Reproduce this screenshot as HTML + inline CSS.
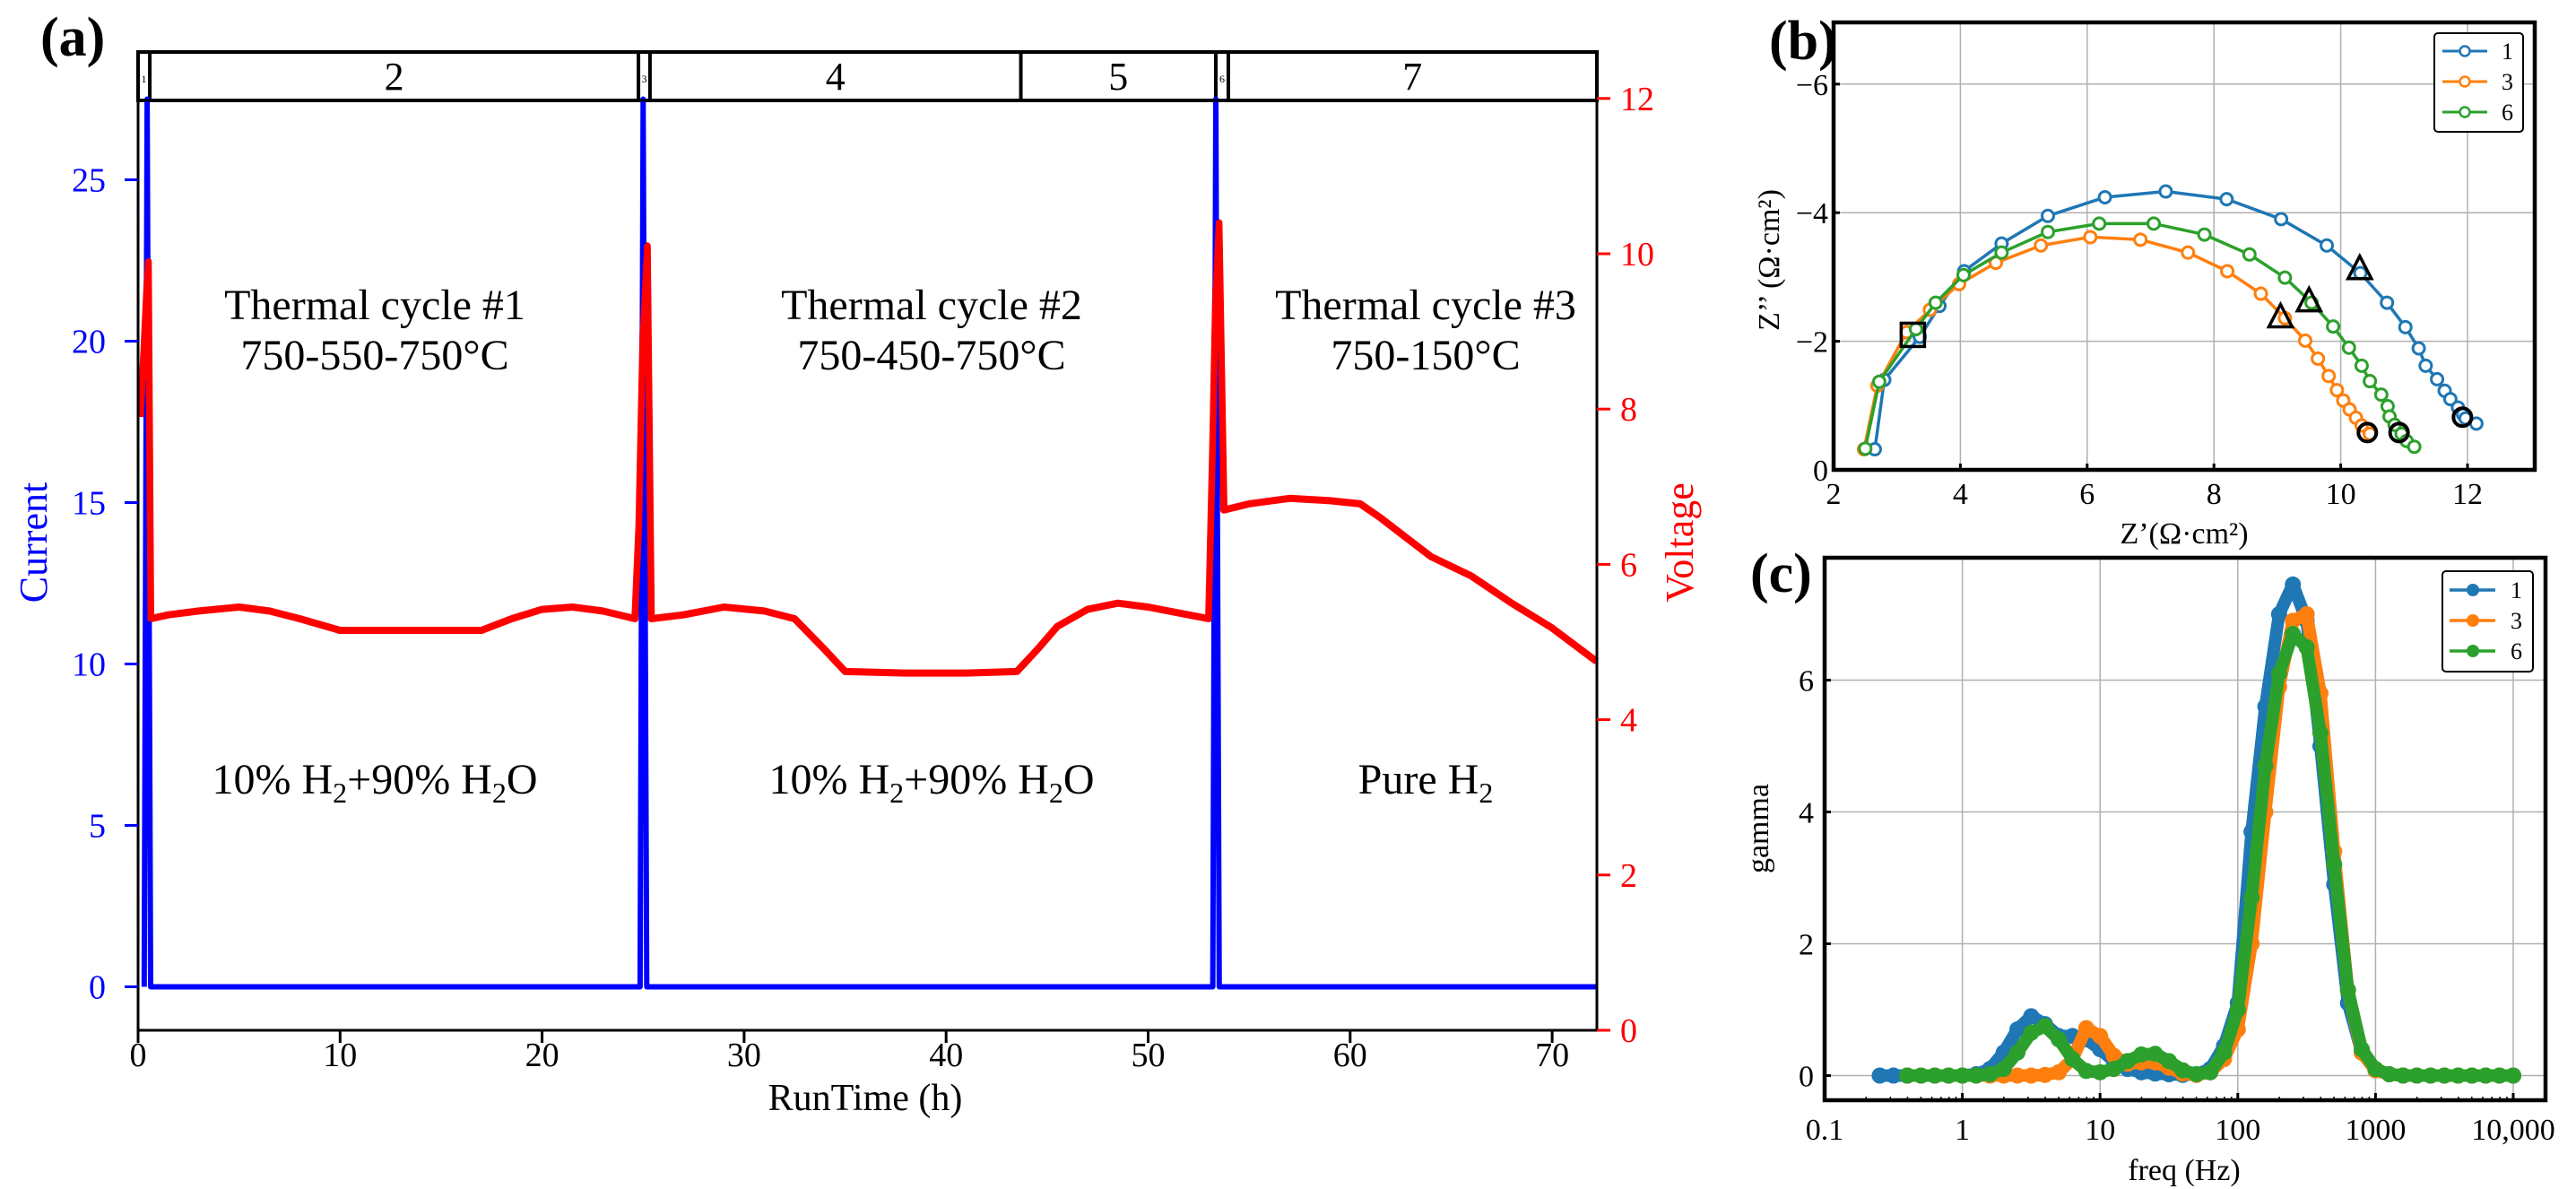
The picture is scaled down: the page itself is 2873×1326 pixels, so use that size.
<!DOCTYPE html>
<html><head><meta charset="utf-8"><style>
html,body{margin:0;padding:0;background:#fff;}
svg{display:block;font-family:"Liberation Serif","DejaVu Serif",serif;}
</style></head><body>
<svg id="fig" width="2873" height="1326" viewBox="0 0 2873 1326" xmlns="http://www.w3.org/2000/svg">
<rect width="2873" height="1326" fill="#fff"/>
<g id="pa"></g>
<g id="pb"></g>
<g id="pc"></g>
</svg>
<script>
// ---------- Panel (a) data ----------
const voltT = [0.13,0.3,0.5,0.62,1.5,3,5,6.5,8,10,13,17,18.5,20,21.5,23,24.6,24.8,25.0,25.2,25.4,27,29,31,32.5,34,35,38,41,43.5,44.5,45.5,47,48.5,50,52,53.0,53.2,53.35,53.5,53.75,55,57,59,60.5,61.5,62.5,64,66,68,70,72.2];
const voltV = [7.9,8.8,9.9,5.3,5.35,5.4,5.45,5.4,5.3,5.15,5.15,5.15,5.3,5.42,5.45,5.4,5.3,6.5,9.0,10.1,5.3,5.35,5.45,5.4,5.3,4.9,4.62,4.6,4.6,4.62,4.9,5.2,5.42,5.5,5.45,5.35,5.3,7.5,9.5,10.4,6.7,6.78,6.85,6.82,6.78,6.6,6.4,6.1,5.85,5.5,5.18,4.75];
const currT = [0.3,0.45,0.62,24.85,25.0,25.18,53.2,53.35,53.52,72.2];
const currI = [0,27.5,0,0,27.5,0,0,27.5,0,0];
const xTicksA = [0,10,20,30,40,50,60,70];
const iTicks = [0,5,10,15,20,25];
const vTicks = [0,2,4,6,8,10,12];
const segStarts = [0,0.58,24.77,25.34,43.7,53.35,53.97];
const segEnds = [0.58,24.77,25.34,43.7,53.35,53.97,72.2];
const segLabels = ["1","2","3","4","5","6","7"];

// ---------- Panel (b) data ----------
const nyqNames = ["1","3","6"];
const nyqColors = ["#1f77b4","#ff7f0e","#2ca02c"];
const zr1 = [2.65,2.80,3.36,3.67,4.06,4.65,5.38,6.28,7.24,8.20,9.06,9.78,10.31,10.73,11.02,11.23,11.34,11.52,11.64,11.73,11.85,11.93,11.97,12.14];
const zi1 = [-0.32,-1.40,-2.07,-2.55,-3.09,-3.52,-3.95,-4.24,-4.33,-4.21,-3.90,-3.49,-3.06,-2.60,-2.22,-1.89,-1.62,-1.41,-1.23,-1.10,-0.97,-0.86,-0.80,-0.72];
const zr3 = [2.48,2.69,3.15,3.52,3.98,4.56,5.27,6.05,6.84,7.59,8.21,8.74,9.12,9.44,9.64,9.81,9.94,10.04,10.14,10.24,10.33,10.46];
const zi3 = [-0.32,-1.31,-2.14,-2.49,-2.89,-3.22,-3.49,-3.62,-3.58,-3.38,-3.09,-2.74,-2.36,-2.01,-1.73,-1.46,-1.24,-1.08,-0.94,-0.81,-0.69,-0.56];
const zr6 = [2.50,2.72,3.30,3.61,4.05,4.65,5.38,6.19,7.05,7.85,8.56,9.12,9.54,9.88,10.13,10.33,10.46,10.64,10.74,10.77,10.85,10.96,11.04,11.16];
const zi6 = [-0.33,-1.37,-2.19,-2.60,-3.03,-3.38,-3.70,-3.83,-3.83,-3.66,-3.35,-2.99,-2.60,-2.23,-1.90,-1.62,-1.38,-1.17,-0.99,-0.83,-0.70,-0.56,-0.45,-0.36];
const sqR = [3.25], sqI = [-2.1];
const triR = [10.3,9.5,9.05], triI = [-3.1,-2.6,-2.35];
const cirR = [11.92,10.42,10.92], cirI = [-0.82,-0.58,-0.58];
const bxTicks = [2,4,6,8,10,12];
const byTicks = [0,-2,-4,-6];

// ---------- Panel (c) data ----------
const logF = [-0.6,-0.5,-0.4,-0.3,-0.2,-0.1,0,0.1,0.2,0.3,0.4,0.5,0.6,0.7,0.8,0.9,1.0,1.1,1.2,1.3,1.4,1.5,1.6,1.7,1.8,1.9,2.0,2.1,2.2,2.3,2.4,2.5,2.6,2.7,2.8,2.9,3.0,3.1,3.2,3.3,3.4,3.5,3.6,3.7,3.8,3.9,4.0];
const gam1 = [0,0,0,0,0,0,0,0.02,0.1,0.35,0.7,0.9,0.78,0.6,0.6,0.55,0.4,0.22,0.1,0.05,0.03,0.02,0.01,0.02,0.1,0.45,1.1,3.7,5.6,7.0,7.45,6.9,5.0,2.9,1.1,0.35,0.08,0.02,0,0,0,0,0,0,0,0,0];
const gam3 = [null,null,0,0,0,0,0,0,0,0,0,0,0.01,0.05,0.25,0.72,0.6,0.3,0.18,0.2,0.2,0.12,0.03,0.01,0.05,0.25,0.7,2.0,4.0,5.9,6.9,7.0,5.8,3.4,1.3,0.35,0.08,0.02,0,0,0,0,0,0,0,0,0];
const gam6 = [null,null,0,0,0,0,0,0,0.02,0.1,0.35,0.65,0.75,0.55,0.25,0.07,0.05,0.1,0.22,0.32,0.33,0.22,0.08,0.02,0.05,0.35,1.0,2.7,4.7,6.1,6.7,6.5,5.2,3.2,1.3,0.4,0.1,0.02,0,0,0,0,0,0,0,0,0];
const cxTickVals = [-1,0,1,2,3,4];
const cxTickLabels = ["0.1","1","10","100","1000","10,000"];
const cyTicks = [0,2,4,6];

const NS = "http://www.w3.org/2000/svg";
function mk(parent, tag, attrs, text){
  const e = document.createElementNS(NS, tag);
  for (const k in attrs) e.setAttribute(k, attrs[k]);
  if (text !== undefined) e.textContent = text;
  parent.appendChild(e);
  return e;
}

// ================= PANEL A =================
(function(){
  const g = document.getElementById('pa');
  const L=154, R=1781, T=112, B=1149;
  const xa = t => L + t*22.53;
  const yV = v => B - v*86.6;
  const yI = i => 1100.5 - i*36;

  const box = mk(g,'rect',{x:L,y:58,width:R-L,height:T-58,fill:'none',stroke:'#000','stroke-width':4});
  
  
  for (let k=0;k<segStarts.length;k++){
    if (k>0){
      const d = mk(g,'line',{x1:xa(segStarts[k]),x2:xa(segStarts[k]),y1:58,y2:T,stroke:'#000','stroke-width':4});
      
      
    }
    const w = segEnds[k]-segStarts[k];
    const small = w < 1.5;
    const tx = mk(g,'text',{x:(xa(segStarts[k])+xa(segEnds[k]))/2,y:small?92:100,'text-anchor':'middle','font-size':small?12:44,fill:'#000'},segLabels[k]);
    
    
  }

  let d='';
  for (let k=0;k<voltT.length;k++) d += (k?'L':'M')+xa(voltT[k]).toFixed(1)+' '+yV(voltV[k]).toFixed(1);
  const vp = mk(g,'path',{d:d,fill:'none',stroke:'#ff0000','stroke-width':8,'stroke-linejoin':'round'});
  
  
  d='';
  for (let k=0;k<currT.length;k++) d += (k?'L':'M')+xa(currT[k]).toFixed(1)+' '+yI(currI[k]).toFixed(1);
  const cp = mk(g,'path',{d:d,fill:'none',stroke:'#0000ff','stroke-width':6,'stroke-linejoin':'round'});
  
  
  const defs = mk(g,'defs',{});
  const cl = mk(defs,'clipPath',{id:'clipLow'});
  mk(cl,'rect',{x:L,y:yV(10.5),width:R-L,height:B-yV(10.5)});
  const vp2 = mk(g,'path',{d:vp.getAttribute('d'),fill:'none',stroke:'#ff0000','stroke-width':7,'stroke-linejoin':'round','clip-path':'url(#clipLow)'});
  
  

  const fr = mk(g,'rect',{x:L,y:T,width:R-L,height:B-T,fill:'none',stroke:'#000','stroke-width':3});
  
  

  xTicksA.forEach(v=>{
    const x=xa(v);
    mk(g,'line',{x1:x,x2:x,y1:B,y2:B+14,stroke:'#000','stroke-width':3});
    const t = mk(g,'text',{x:x,y:B+40,'text-anchor':'middle','font-size':38},String(v));
    
    
  });
  iTicks.forEach(v=>{
    const y=yI(v);
    mk(g,'line',{x1:L-15,x2:L,y1:y,y2:y,stroke:'#0000ff','stroke-width':3});
    const t = mk(g,'text',{x:L-36,y:y+13,'text-anchor':'end','font-size':38,fill:'#0000ff'},String(v));
    
    
  });
  vTicks.forEach(v=>{
    const y=yV(v);
    mk(g,'line',{x1:R,x2:R+15,y1:y,y2:y,stroke:'#ff0000','stroke-width':3});
    const t = mk(g,'text',{x:R+26,y:y+13,'text-anchor':'start','font-size':38,fill:'#ff0000'},String(v));
    
    
  });
})();

(function(){
  const g=document.getElementById('pa');
  g.insertAdjacentHTML('beforeend',`
  <text x="45" y="62" font-size="62" font-weight="bold">(a)</text>
  <text x="965" y="1238" font-size="42" text-anchor="middle">RunTime (h)</text>
  <text transform="translate(52,605) rotate(-90)" font-size="44" text-anchor="middle" fill="#0000ff">Current</text>
  <text transform="translate(1888,605) rotate(-90)" font-size="44" text-anchor="middle" fill="#ff0000">Voltage</text>
  <text x="418" y="356" font-size="48" text-anchor="middle">Thermal cycle #1</text>
  <text x="418" y="412" font-size="48" text-anchor="middle">750-550-750°C</text>
  <text x="1039" y="356" font-size="48" text-anchor="middle">Thermal cycle #2</text>
  <text x="1039" y="412" font-size="48" text-anchor="middle">750-450-750°C</text>
  <text x="1590" y="356" font-size="48" text-anchor="middle">Thermal cycle #3</text>
  <text x="1590" y="412" font-size="48" text-anchor="middle">750-150°C</text>
  <text x="418" y="885" font-size="48" text-anchor="middle">10% H<tspan font-size="32" dy="10">2</tspan><tspan dy="-10">+90% H</tspan><tspan font-size="32" dy="10">2</tspan><tspan dy="-10">O</tspan></text>
  <text x="1039" y="885" font-size="48" text-anchor="middle">10% H<tspan font-size="32" dy="10">2</tspan><tspan dy="-10">+90% H</tspan><tspan font-size="32" dy="10">2</tspan><tspan dy="-10">O</tspan></text>
  <text x="1590" y="885" font-size="48" text-anchor="middle">Pure H<tspan font-size="32" dy="10">2</tspan></text>
  `);
})();

// ================= PANEL B =================
(function(){
  const g=document.getElementById('pb');
  const L=2045,R=2827,T=25,B=524;
  const xb = v => L + (v-2)*70.7;
  const yb = v => B + v*71.7;
  bxTicks.forEach(v=>{ if(v>2) mk(g,'line',{x1:xb(v),x2:xb(v),y1:T,y2:B,stroke:'#b0b0b0','stroke-width':1.5}); });
  byTicks.forEach(v=>{ if(v<0) mk(g,'line',{x1:L,x2:R,y1:yb(v),y2:yb(v),stroke:'#b0b0b0','stroke-width':1.5}); });
  const series=[[zr1,zi1],[zr3,zi3],[zr6,zi6]];
  series.forEach((s,si)=>{
    let d='';
    s[0].forEach((r,k)=>{ d+=(k?'L':'M')+xb(r).toFixed(1)+' '+yb(s[1][k]).toFixed(1); });
    const p=mk(g,'path',{d:d,fill:'none',stroke:nyqColors[si],'stroke-width':3.5});
    
    
    s[0].forEach((r,k)=>{
      const c=mk(g,'circle',{cx:xb(r),cy:yb(s[1][k]),r:6.5,fill:'#fff',stroke:nyqColors[si],'stroke-width':3});
      
      
    });
  });
  sqR.forEach((r,k)=>{
    const e=mk(g,'rect',{x:xb(r)-13,y:yb(sqI[k])-13,width:26,height:26,fill:'none',stroke:'#000','stroke-width':3.5});
    
    
  });
  triR.forEach((r,k)=>{
    const x=xb(r),y=yb(triI[k]);
    const e=mk(g,'polygon',{points:`${x},${y-16} ${x-13},${y+9} ${x+13},${y+9}`,fill:'none',stroke:'#000','stroke-width':3.5});
    
    
  });
  cirR.forEach((r,k)=>{
    const e=mk(g,'circle',{cx:xb(r),cy:yb(cirI[k]),r:10,fill:'none',stroke:'#000','stroke-width':4});
    
    
  });
  const fr=mk(g,'rect',{x:L,y:T,width:R-L,height:B-T,fill:'none',stroke:'#000','stroke-width':4.5});
  
  
  bxTicks.forEach(v=>{
    mk(g,'line',{x1:xb(v),x2:xb(v),y1:B,y2:B-7,stroke:'#000','stroke-width':3});
    const t=mk(g,'text',{x:xb(v),y:B+38,'text-anchor':'middle','font-size':34},String(v));
    
    
  });
  byTicks.forEach(v=>{
    mk(g,'line',{x1:L,x2:L+7,y1:yb(v),y2:yb(v),stroke:'#000','stroke-width':3});
    const t=mk(g,'text',{x:L-6,y:yb(v)+12,'text-anchor':'end','font-size':34},v<0?'\u2212'+Math.abs(v):String(v));
    
    
  });
  const lg=mk(g,'rect',{x:2715,y:37,width:99,height:110,rx:4,fill:'#fff',stroke:'#000','stroke-width':2});
  
  
  nyqNames.forEach((n,i)=>{
    const y=57+i*34;
    mk(g,'line',{x1:2724,x2:2774,y1:y,y2:y,stroke:nyqColors[i],'stroke-width':3});
    mk(g,'circle',{cx:2749,cy:y,r:5.5,fill:'#fff',stroke:nyqColors[i],'stroke-width':2.5});
    const t=mk(g,'text',{x:2790,y:y+9,'font-size':26},n);
    
    
  });
  g.insertAdjacentHTML('beforeend',`
  <text x="1973" y="66" font-size="62" font-weight="bold">(b)</text>
  <text x="2436" y="606" font-size="34" text-anchor="middle">Z’(Ω·cm²)</text>
  <text transform="translate(1984,290) rotate(-90)" font-size="34" text-anchor="middle">Z’’ (Ω·cm²)</text>
  `);
})();

// ================= PANEL C =================
(function(){
  const g=document.getElementById('pc');
  const L=2035,R=2839,T=622,B=1227;
  const xc = lf => L + (lf+1)*153.6;
  const yc = v => 1199.5 - v*73.5;
  cxTickVals.forEach(v=>{ if(v>-1) mk(g,'line',{x1:xc(v),x2:xc(v),y1:T,y2:B,stroke:'#b0b0b0','stroke-width':1.5}); });
  cyTicks.forEach(v=>{ mk(g,'line',{x1:L,x2:R,y1:yc(v),y2:yc(v),stroke:'#b0b0b0','stroke-width':1.5}); });
  const gams=[gam1,gam3,gam6];
  gams.forEach((arr,si)=>{
    let d='';let first=true;
    arr.forEach((v,k)=>{ if(v===null) return; d+=(first?'M':'L')+xc(logF[k]).toFixed(1)+' '+yc(v).toFixed(1); first=false; });
    const p=mk(g,'path',{d:d,fill:'none',stroke:nyqColors[si],'stroke-width':14,'stroke-linejoin':'round','stroke-linecap':'round'});
    
    
    arr.forEach((v,k)=>{
      if(v===null) return;
      const c=mk(g,'circle',{cx:xc(logF[k]),cy:yc(v),r:9,fill:nyqColors[si]});
      
      
    });
  });
  const fr=mk(g,'rect',{x:L,y:T,width:R-L,height:B-T,fill:'none',stroke:'#000','stroke-width':4.5});
  
  
  cxTickVals.forEach((v,i)=>{
    mk(g,'line',{x1:xc(v),x2:xc(v),y1:B,y2:B-8,stroke:'#000','stroke-width':3});
    if(v<4) for(let m=2;m<10;m++){ const x=xc(v+Math.log10(m)); if(x<R) mk(g,'line',{x1:x,x2:x,y1:B,y2:B-4,stroke:'#000','stroke-width':1.5}); }
    const t=mk(g,'text',{x:xc(v),y:B+44,'text-anchor':'middle','font-size':34},cxTickLabels[i]);
    
    
  });
  cyTicks.forEach(v=>{
    mk(g,'line',{x1:L,x2:L+7,y1:yc(v),y2:yc(v),stroke:'#000','stroke-width':3});
    const t=mk(g,'text',{x:L-12,y:yc(v)+12,'text-anchor':'end','font-size':34},String(v));
    
    
  });
  const lg=mk(g,'rect',{x:2724,y:637,width:101,height:112,rx:4,fill:'#fff',stroke:'#000','stroke-width':2});
  
  
  nyqNames.forEach((n,i)=>{
    const y=658+i*34;
    mk(g,'line',{x1:2732,x2:2783,y1:y,y2:y,stroke:nyqColors[i],'stroke-width':3.5});
    mk(g,'circle',{cx:2758,cy:y,r:7,fill:nyqColors[i]});
    const t=mk(g,'text',{x:2800,y:y+9,'font-size':26},n);
    
    
  });
  g.insertAdjacentHTML('beforeend',`
  <text x="1952" y="660" font-size="62" font-weight="bold">(c)</text>
  <text x="2436" y="1316" font-size="34" text-anchor="middle">freq (Hz)</text>
  <text transform="translate(1972,924) rotate(-90)" font-size="34" text-anchor="middle">gamma</text>
  `);
})();
</script>
</body></html>
